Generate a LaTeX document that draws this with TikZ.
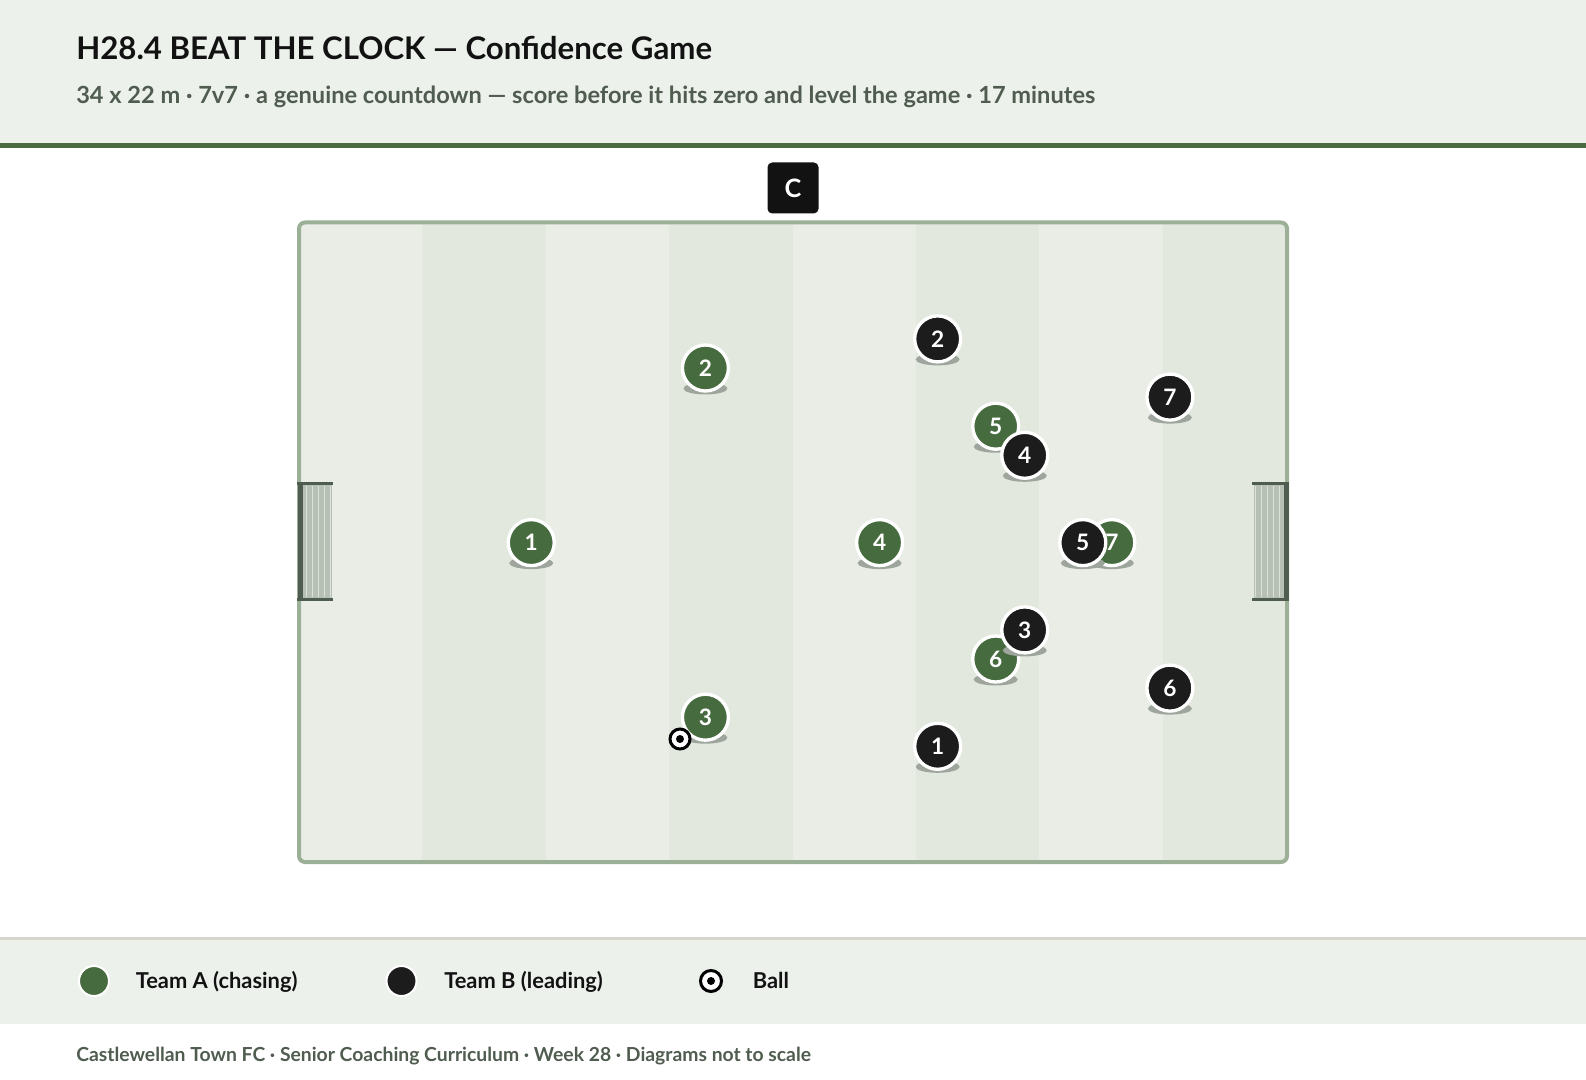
\documentclass[tikz,border=0pt]{standalone}
\usepackage{fontspec}
\setmainfont{Lato}
\definecolor{headbg}{HTML}{EDF1EC}
\definecolor{headline}{HTML}{4A6B42}
\definecolor{subgray}{HTML}{4F5C4F}
\definecolor{teamAcol}{HTML}{466B3E}
\definecolor{teamBcol}{HTML}{1C1C1C}
\definecolor{stripelight}{HTML}{E9EDE6}
\definecolor{stripedark}{HTML}{E2E8DE}
\definecolor{pitchline}{HTML}{9CB097}
\definecolor{goalbar}{HTML}{4F5D50}
\definecolor{goalnet}{HTML}{B6C0B4}
\definecolor{netline}{HTML}{DCE1D9}
\definecolor{shadowgray}{HTML}{9DA59C}
\definecolor{legendline}{HTML}{D8D5CC}
\tikzset{
  player/.style={circle,draw=white,line width=2.5pt,minimum size=34.5pt,inner sep=0pt,
    text=white,font=\bfseries\fontsize{17}{18}\selectfont},
  teamA/.style={player,fill=teamAcol},
  teamB/.style={player,fill=teamBcol},
  ballring/.style={circle,draw=black,fill=white,line width=2.25pt,minimum size=15pt,inner sep=0pt},
  keydot/.style={circle,draw=white,line width=1.5pt,minimum size=22.5pt,inner sep=0pt},
  keytext/.style={anchor=base west,inner sep=0pt,font=\bfseries\fontsize{16.4}{17}\selectfont,text=black!93},
}
\begin{document}
\begin{tikzpicture}[x=0.75pt,y=-0.75pt]
\useasboundingbox (0,0) rectangle (1586,1080);
% header
\fill[headbg] (0,0) rectangle (1586,143);
\fill[headline] (0,143) rectangle (1586,148);
\node[anchor=base west,inner sep=0pt,text=black!93,font=\bfseries\fontsize{23.4}{25}\selectfont]
  (title) at (76,59.5) {H28.4 BEAT THE CLOCK — Confidence Game};
\node[anchor=base west,inner sep=0pt,text=subgray,font=\bfseries\fontsize{17.7}{19}\selectfont]
  (subtitle) at (76,104) {34 x 22 m · 7v7 · a genuine countdown — score before it hits zero and level the game · 17 minutes};
% coach
\node[fill=black!93,rounded corners=3.5pt,minimum size=38.25pt,inner sep=0pt,text=white,
  font=\bfseries\fontsize{19}{20}\selectfont] (coach) at (793,188) {C};
% pitch
\begin{scope}
  \clip[rounded corners=4.5pt] (299,222.5) rectangle (1287,862);
  \fill[stripelight] (299,222.5) rectangle (1287,862);
  \foreach \i in {1,3,5,7}
    \fill[stripedark] ({299+123.375*\i},222.5) rectangle ({299+123.375*(\i+1)},862);
\end{scope}
\draw[pitchline,line width=3pt,rounded corners=4.5pt] (299,222.5) rectangle (1287,862);
% goals
\fill[goalnet] (302,484) rectangle (332,599);
\foreach \gx in {306.5,312.5,318.5,324.5,330.5}
  \draw[netline,line width=0.9pt] (\gx,486) -- (\gx,597);
\draw[goalbar,line width=2.25pt] (297,484) -- (333,484);
\draw[goalbar,line width=2.25pt] (297,599) -- (333,599);
\draw[goalbar,line width=3.75pt] (300,482.5) -- (300,600.5);
\fill[goalnet] (1254,484) rectangle (1284,599);
\foreach \gx in {1255.5,1261.5,1267.5,1273.5,1279.5}
  \draw[netline,line width=0.9pt] (\gx,486) -- (\gx,597);
\draw[goalbar,line width=2.25pt] (1252,484) -- (1288,484);
\draw[goalbar,line width=2.25pt] (1252,599) -- (1288,599);
\draw[goalbar,line width=3.75pt] (1286,482.5) -- (1286,600.5);
% team A
\foreach \n/\px/\py in {1/8/11,2/14/5,3/14/17,4/20/11,5/24/7,6/24/15,7/28/11}{
  \fill[shadowgray] ({299+29.03*\px},{243+29.1*\py}) ellipse [x radius=16.5pt,y radius=4.5pt];
  \node[teamA] (a\n) at ({299+29.03*\px},{222.5+29.1*\py}) {\n};
}
% team B
\foreach \n/\px/\py in {1/22/18,2/22/4,3/25/14,4/25/8,5/27/11,6/30/16,7/30/6}{
  \fill[shadowgray] ({299+29.03*\px},{243+29.1*\py}) ellipse [x radius=16.5pt,y radius=4.5pt];
  \node[teamB] (b\n) at ({299+29.03*\px},{222.5+29.1*\py}) {\n};
}
% ball
\node[ballring] (ball) at (680,739) {};
\fill[black] (ball.center) circle (3pt);
% legend
\fill[legendline] (0,937) rectangle (1586,940);
\fill[headbg] (0,940) rectangle (1586,1024);
\node[keydot,fill=teamAcol] (keyA) at (94,981) {};
\node[keytext] (keyAtext) at (135.5,988) {Team A (chasing)};
\node[keydot,fill=teamBcol] (keyB) at (401.5,981) {};
\node[keytext] (keyBtext) at (444,988) {Team B (leading)};
\node[ballring,minimum size=15.75pt] (keyball) at (711,981) {};
\fill[black] (keyball.center) circle (3pt);
\node[keytext] (keyballtext) at (752.5,988) {Ball};
% footer
\node[anchor=base west,inner sep=0pt,text=subgray,font=\bfseries\fontsize{14.5}{16}\selectfont]
  (footer) at (76,1061) {Castlewellan Town FC · Senior Coaching Curriculum · Week 28 · Diagrams not to scale};
\end{tikzpicture}
\end{document}
